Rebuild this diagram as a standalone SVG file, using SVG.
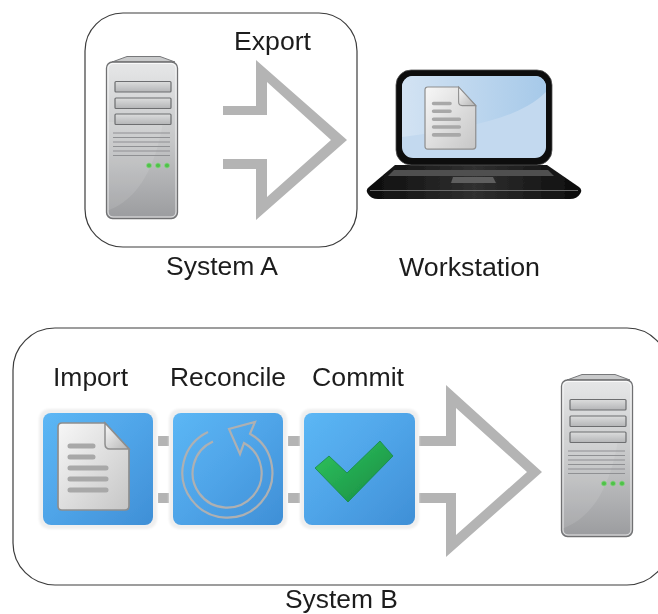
<svg xmlns="http://www.w3.org/2000/svg" xmlns:xlink="http://www.w3.org/1999/xlink" width="658" height="614" viewBox="0 0 658 614">
<style>
text{font-family:"Liberation Sans",Arial,sans-serif;font-size:25.5px;fill:#1c1c1c;filter:url(#soft)}
.box{fill:#fff;stroke:#3c3c3c;stroke-width:1.2}
.flow{fill:#b4b4b4;stroke:none}
.tile{stroke:none;fill:url(#tileG)}
.halo{fill:#efefef;filter:url(#shadow)}
.ln{stroke:#a8a8a8;stroke-width:5;stroke-linecap:round;fill:none}
.bay{fill:url(#bayG);stroke:#6d6e70;stroke-width:1.2}
.vent{stroke:#8f9093;stroke-width:1.1}
.led{fill:#4fc24a;stroke:#8fd08a;stroke-width:.8}
.ring{fill:none;stroke:#aeb0b2;stroke-width:2.2;stroke-linejoin:miter}
</style>
<defs>
<filter id="soft" x="-5%" y="-5%" width="110%" height="110%"><feGaussianBlur stdDeviation="0.35"/></filter>
<filter id="shadow" x="-10%" y="-10%" width="120%" height="120%"><feGaussianBlur stdDeviation="1.2"/></filter>
<linearGradient id="tileG" x1="0" y1="0" x2="1" y2="1"><stop offset="0" stop-color="#5cb7f5"/><stop offset=".5" stop-color="#4fa4e8"/><stop offset="1" stop-color="#3f8fd6"/></linearGradient>
<linearGradient id="srvG" x1="0" y1="0" x2="0" y2="1"><stop offset="0" stop-color="#e6e7e8"/><stop offset=".5" stop-color="#c6c7c8"/><stop offset="1" stop-color="#9b9c9f"/></linearGradient>
<linearGradient id="bayG" x1="0" y1="0" x2="0" y2="1"><stop offset="0" stop-color="#dcdddd"/><stop offset="1" stop-color="#b4b5b7"/></linearGradient>
<linearGradient id="docG" x1="0" y1="0" x2="1" y2="1"><stop offset="0" stop-color="#f7f7f7"/><stop offset="1" stop-color="#c6c6c6"/></linearGradient>
<linearGradient id="foldG" x1="0" y1="0" x2="1" y2="1"><stop offset="0" stop-color="#fafafa"/><stop offset="1" stop-color="#b5b5b5"/></linearGradient>
<linearGradient id="chkG" x1="0" y1="0" x2="1" y2="1"><stop offset="0" stop-color="#30c65e"/><stop offset="1" stop-color="#178a43"/></linearGradient>
<linearGradient id="scrG" x1="0" y1="0" x2="1" y2="0"><stop offset="0" stop-color="#d3e3f3"/><stop offset="1" stop-color="#a6c9e9"/></linearGradient>
<linearGradient id="baseG" x1="0" y1="0" x2="1" y2="0"><stop offset="0" stop-color="#0c0c0c"/><stop offset=".5" stop-color="#303030"/><stop offset="1" stop-color="#0c0c0c"/></linearGradient>
<clipPath id="scrClip"><rect x="402" y="76" width="144" height="82" rx="11"/></clipPath>
<g id="server" filter="url(#soft)">
<path d="M112,62 L127,56.500 H160 L175,62 Z" fill="#c9cacb" stroke="#77787a"/>
<rect x="106.500" y="62" width="71" height="156.500" rx="6" fill="url(#srvG)" stroke="#6f7072" stroke-width="1.300"/>
<rect x="108" y="63.500" width="68" height="153.500" rx="5" fill="none" stroke="#fff" stroke-opacity=".75"/>
<path d="M109,210 C135,200 155,172 163,122 L108,122 V210 Z" fill="#fff" fill-opacity=".1"/>
<rect class="bay" x="115" y="81.500" width="56" height="10.500" rx="1"/>
<rect class="bay" x="115" y="98" width="56" height="10.500" rx="1"/>
<rect class="bay" x="115" y="114" width="56" height="10.500" rx="1"/>
<path class="vent" d="M113,133H170M113,137.500H170M113,142H170M113,146.500H170M113,151H170M113,155.500H170"/>
<circle class="led" cx="149" cy="165.500" r="2.500"/><circle class="led" cx="158" cy="165.500" r="2.500"/><circle class="led" cx="167" cy="165.500" r="2.500"/>
</g>
<g id="doc">
<path d="M4,0 H47 L71,26 V83 Q71,87 67,87 H4 Q0,87 0,83 V4 Q0,0 4,0 Z" fill="url(#docG)" stroke="#8e8e8e" stroke-width="1.700"/>
<path d="M47,0 L71,26 H52 Q47,26 47,21 Z" fill="url(#foldG)" stroke="#8e8e8e" stroke-width="1.500"/>
<path class="ln" d="M12,23H35M12,34H35M12,45H48M12,56H48M12,67H48"/>
</g>
</defs>
<rect width="658" height="614" fill="#fff"/>

<g id="system-a"><rect class="box" x="85" y="13" width="272" height="234" rx="38"/></g>
<g id="system-b"><rect class="box" x="13" y="328" width="656" height="257" rx="42"/></g>

<g id="connectors" filter="url(#soft)">
<path id="export-arrow" class="flow" d="M223,106H256V60L347,140L256,220V169H223V159H267V197L331,140L267,82V115H223Z"/>
<path id="commit-arrow" class="flow" d="M419,436H446V385L542,472L446,557V503H419V493H456V535L527,472L456,408V446H419Z"/>
<rect class="flow" x="158" y="436" width="11" height="10"/>
<rect class="flow" x="158" y="493" width="11" height="10"/>
<rect class="flow" x="288" y="436" width="12" height="10"/>
<rect class="flow" x="288" y="493" width="12" height="10"/>
</g>

<g id="server-a"><use href="#server"/></g>

<g id="workstation" filter="url(#soft)">
<path d="M395,165H547L579,187Q583,190 580,194Q577,199 570,199H378Q371,199 368,194Q365,190 369,187Z" fill="url(#baseG)"/>
<path d="M394,170H548L554,176H388Z" fill="#505050"/>
<path d="M453,177H493L496,183H451Z" fill="#5e5e5e"/>
<path d="M370,190.500H578" stroke="#6a6a6a" stroke-width="1"/>
<rect x="396" y="70" width="156" height="95" rx="15" fill="#0b0b0b" stroke="#555" stroke-width=".8"/>
<rect x="402" y="76" width="144" height="82" rx="11" fill="#c3d9ef"/>
<path clip-path="url(#scrClip)" d="M402,76H546V92C520,118 470,128 402,137Z" fill="url(#scrG)"/>
<use href="#doc" transform="translate(425 87) scale(.715)"/>
</g>

<g id="import" filter="url(#soft)">
<rect class="halo" x="39" y="409" width="118" height="120" rx="10"/>
<rect class="tile" x="43" y="413" width="110" height="112" rx="8"/>
<use href="#doc" transform="translate(58 423)"/>
</g>
<g id="reconcile" filter="url(#soft)">
<rect class="halo" x="169" y="409" width="118" height="120" rx="10"/>
<rect class="tile" x="173" y="413" width="110" height="112" rx="8"/>
<path class="ring" d="M208,432A45,45 0 1 0 250,433.700L255,422L229,429L240,454L244,443A34.500,34.500 0 1 1 213,441.600"/>
</g>
<g id="commit" filter="url(#soft)">
<rect class="halo" x="300" y="409" width="119" height="120" rx="10"/>
<rect class="tile" x="304" y="413" width="111" height="112" rx="8"/>
<path d="M315,468L329,456L347,473L380,441L393,456L348,502Z" fill="url(#chkG)" stroke="#178a43" stroke-width=".8" stroke-linejoin="round"/>
</g>

<g id="server-b"><use href="#server" transform="translate(455 318)"/></g>

<g id="labels">
<text x="234" y="50" textLength="77" lengthAdjust="spacingAndGlyphs">Export</text>
<text x="166" y="275" textLength="112" lengthAdjust="spacingAndGlyphs">System A</text>
<text x="399" y="276" textLength="141" lengthAdjust="spacingAndGlyphs">Workstation</text>
<text x="53" y="386" textLength="75" lengthAdjust="spacingAndGlyphs">Import</text>
<text x="170" y="386" textLength="116" lengthAdjust="spacingAndGlyphs">Reconcile</text>
<text x="312" y="386" textLength="92" lengthAdjust="spacingAndGlyphs">Commit</text>
<text x="285" y="608" textLength="113" lengthAdjust="spacingAndGlyphs">System B</text>
</g>
</svg>
